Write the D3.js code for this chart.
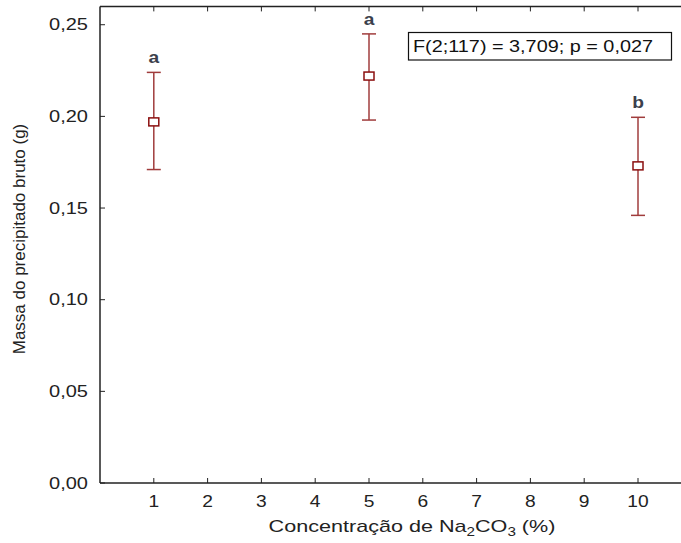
<!DOCTYPE html>
<html>
<head>
<meta charset="utf-8">
<script src="https://cdn.jsdelivr.net/npm/d3@7"></script>
<style>
  body { margin: 0; background: #fff; }
  svg { display: block; font-family: "Liberation Sans", Arial, sans-serif; }
</style>
</head>
<body>
<div id="chart"></div>
<script>
// concentracao de Na2CO3 (%)
var conc = [1, 5, 10];
var media = [0.197, 0.222, 0.173];
var limSup = [0.224, 0.245, 0.1995];
var limInf = [0.171, 0.198, 0.146];
var letras = ["a", "a", "b"];
var xTicks = [1, 2, 3, 4, 5, 6, 7, 8, 9, 10];
var yTicks = [0, 0.05, 0.10, 0.15, 0.20, 0.25];
var anova = "F(2;117) = 3,709; p = 0,027";

var W = 681, H = 543;
var sx = 1.2; // texto esticado na horizontal

var svg = d3.select("#chart")
	.append("svg")
	.attr("width", W)
	.attr("height", H);

var x = d3.scaleLinear().domain([0, 11]).range([100, 100 + 11 * 53.8]);
var y = d3.scaleLinear().domain([0, 0.26]).range([483, 6.4]);

var fmt = d => d3.format(".2f")(d).replace(".", ",");

// eixo inferior
svg.append("line")
	.attr("x1", x(0)).attr("x2", W)
	.attr("y1", y(0)).attr("y2", y(0))
	.attr("stroke", "#222").attr("stroke-width", 1.5);
// eixo superior
svg.append("line")
	.attr("x1", x(0)).attr("x2", W)
	.attr("y1", y(0.26)).attr("y2", y(0.26))
	.attr("stroke", "#222").attr("stroke-width", 1.5);
// eixo esquerdo
svg.append("line")
	.attr("x1", x(0)).attr("x2", x(0))
	.attr("y1", y(0)).attr("y2", y(0.26))
	.attr("stroke", "#222").attr("stroke-width", 1.5);

svg.selectAll(".xtick")
	.data(xTicks)
	.enter()
	.append("line")
	.attr("class", "xtick")
	.attr("x1", d => x(d)).attr("x2", d => x(d))
	.attr("y1", y(0)).attr("y2", y(0) - 5)
	.attr("stroke", "#222");

svg.selectAll(".xtick2")
	.data(xTicks)
	.enter()
	.append("line")
	.attr("class", "xtick2")
	.attr("x1", d => x(d)).attr("x2", d => x(d))
	.attr("y1", y(0.26)).attr("y2", y(0.26) + 5)
	.attr("stroke", "#222");

svg.selectAll(".ytick")
	.data(yTicks)
	.enter()
	.append("line")
	.attr("class", "ytick")
	.attr("x1", x(0)).attr("x2", x(0) + 5)
	.attr("y1", d => y(d)).attr("y2", d => y(d))
	.attr("stroke", "#222");

svg.selectAll(".xlab")
	.data(xTicks)
	.enter()
	.append("text")
	.attr("class", "xlab")
	.attr("transform", d => "translate(" + x(d) + ",507) scale(" + sx + ",1)")
	.style("font-size", 16)
	.style("text-anchor", "middle")
	.attr("fill", "#222")
	.text(d => d);

svg.selectAll(".ylab")
	.data(yTicks)
	.enter()
	.append("text")
	.attr("class", "ylab")
	.attr("transform", d => "translate(88," + (y(d) + 5.5) + ") scale(1.25,1)")
	.style("font-size", 16)
	.style("text-anchor", "end")
	.attr("fill", "#222")
	.text(d => fmt(d));

// barras de erro
var cor = "#a03c3c";
svg.selectAll(".barra")
	.data(conc)
	.enter()
	.append("line")
	.attr("class", "barra")
	.attr("x1", d => x(d)).attr("x2", d => x(d))
	.attr("y1", (d, i) => y(limSup[i])).attr("y2", (d, i) => y(limInf[i]))
	.attr("stroke", cor).attr("stroke-width", 1.5);

svg.selectAll(".capS")
	.data(conc)
	.enter()
	.append("line")
	.attr("class", "capS")
	.attr("x1", d => x(d) - 7).attr("x2", d => x(d) + 7)
	.attr("y1", (d, i) => y(limSup[i])).attr("y2", (d, i) => y(limSup[i]))
	.attr("stroke", cor).attr("stroke-width", 1.5);

svg.selectAll(".capI")
	.data(conc)
	.enter()
	.append("line")
	.attr("class", "capI")
	.attr("x1", d => x(d) - 7).attr("x2", d => x(d) + 7)
	.attr("y1", (d, i) => y(limInf[i])).attr("y2", (d, i) => y(limInf[i]))
	.attr("stroke", cor).attr("stroke-width", 1.5);

svg.selectAll(".media")
	.data(conc)
	.enter()
	.append("rect")
	.attr("class", "media")
	.attr("x", d => x(d) - 5)
	.attr("y", (d, i) => y(media[i]) - 4)
	.attr("width", 10)
	.attr("height", 8)
	.attr("fill", "#fff")
	.attr("stroke", "#8b0f0f")
	.attr("stroke-width", 1.5);

svg.selectAll(".letra")
	.data(conc)
	.enter()
	.append("text")
	.attr("class", "letra")
	.attr("transform", (d, i) => "translate(" + x(d) + "," + (y(limSup[i]) - 9) + ") scale(" + sx + ",1)")
	.style("font-size", 16)
	.style("font-weight", "bold")
	.style("text-anchor", "middle")
	.attr("fill", "#3b3f4c")
	.text((d, i) => letras[i]);

// caixa da ANOVA
svg.append("rect")
	.attr("x", 408.5).attr("y", 32.5)
	.attr("width", 263).attr("height", 27.5)
	.attr("fill", "#fff")
	.attr("stroke", "#111").attr("stroke-width", 1.2);

svg.append("text")
	.attr("transform", "translate(413,52) scale(1.24,1)")
	.style("font-size", 16)
	.attr("fill", "#111")
	.text(anova);

// titulos
var tx = svg.append("text")
	.attr("transform", "translate(412,532) scale(1.27,1)")
	.style("font-size", 17)
	.style("text-anchor", "middle")
	.attr("fill", "#222");
tx.append("tspan").text("Concentração de Na");
tx.append("tspan").attr("dy", 4).style("font-size", 12).text("2");
tx.append("tspan").attr("dy", -4).text("CO");
tx.append("tspan").attr("dy", 4).style("font-size", 12).text("3");
tx.append("tspan").attr("dy", -4).text(" (%)");

svg.append("text")
	.attr("transform", "translate(25,239) rotate(-90)")
	.style("font-size", 17)
	.style("text-anchor", "middle")
	.attr("fill", "#222")
	.text("Massa do precipitado bruto (g)");
</script>
</body>
</html>
